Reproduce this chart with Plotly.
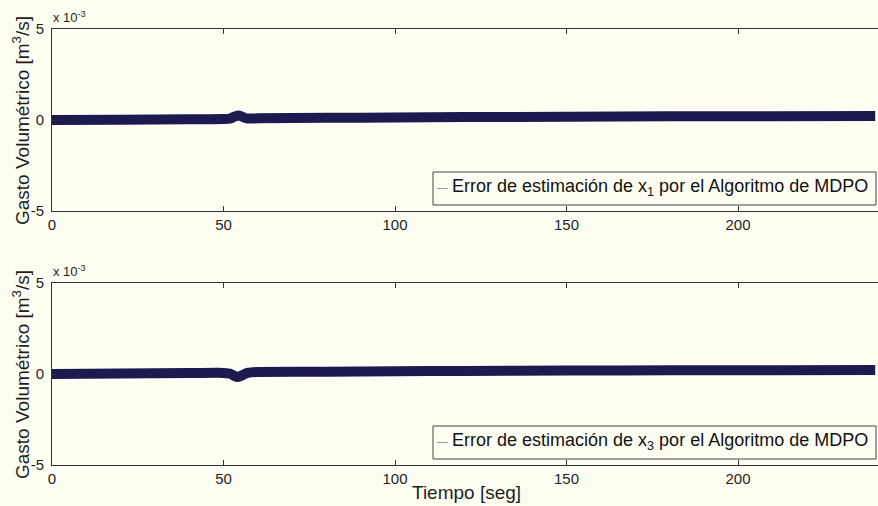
import plotly.graph_objects as go

# Estimation error of the MDPO algorithm, sampled along time [s]
t_x1 = [0, 20, 40, 50, 52, 53, 54, 55, 56, 57, 58, 60, 80, 100, 120, 150, 180, 210, 240]
err_x1 = [0.0, 0.00002, 0.00004, 0.00005, 0.00008, 0.00017, 0.00024, 0.00022, 0.00013, 0.00008, 0.00008,
          0.00009, 0.00012, 0.00014, 0.00016, 0.00018, 0.00020, 0.00021, 0.00022]

t_x3 = [0, 20, 40, 50, 52, 53, 54, 55, 56, 57, 58, 60, 80, 100, 120, 150, 180, 210, 240]
err_x3 = [0.0, 0.00003, 0.00005, 0.00006, 0.00002, -0.00009, -0.00016, -0.00011, -0.00002, 0.00006, 0.00009,
          0.00011, 0.00013, 0.00015, 0.00017, 0.00019, 0.00020, 0.00021, 0.00022]

x_ticks = [0, 50, 100, 150, 200]
y_ticks = [-0.005, 0, 0.005]
y_tick_text = ["-5", "0", "5"]

legend_x1 = "Error de estimación de x<sub>1</sub> por el Algoritmo de MDPO"
legend_x3 = "Error de estimación de x<sub>3</sub> por el Algoritmo de MDPO"
y_title = "Gasto Volumétrico [m<sup>3</sup>/s]"
x_title = "Tiempo [seg]"

W, H = 878, 506
LINE_COLOR = "#1c1a4f"
BG = "#fefef3"
FONT = "Liberation Sans, Arial, sans-serif"

fig = go.Figure()
fig.add_trace(go.Scatter(x=t_x1, y=err_x1, mode="lines", xaxis="x", yaxis="y",
                         line=dict(color=LINE_COLOR, width=10, shape="spline", smoothing=0.6),
                         showlegend=False))
fig.add_trace(go.Scatter(x=t_x3, y=err_x3, mode="lines", xaxis="x2", yaxis="y2",
                         line=dict(color=LINE_COLOR, width=10, shape="spline", smoothing=0.6),
                         showlegend=False))

# plot areas in pixels: (top, bottom)
left = 52
panels = [(29, 211), (283, 465)]


def px_x(p):
    return p / W


def px_y(p):
    return 1 - p / H


xdom = [px_x(left), 1.0]
axis_common = dict(showgrid=False, zeroline=False, showline=True, linecolor="#333333", linewidth=1,
                   ticks="inside", ticklen=5, tickcolor="#333333", automargin=False,
                   tickfont=dict(family=FONT, size=15, color="#1e1e1e"))

fig.update_layout(
    width=W, height=H,
    margin=dict(l=0, r=0, t=0, b=0, autoexpand=False),
    paper_bgcolor=BG, plot_bgcolor=BG,
    font=dict(family=FONT, color="#1e1e1e"),
    xaxis=dict(domain=xdom, range=[0, (W - left) / 3.43], tickvals=x_ticks, mirror="ticks",
               anchor="y", **axis_common),
    yaxis=dict(domain=[px_y(panels[0][1]), px_y(panels[0][0])], range=[-0.005, 0.005],
               tickvals=y_ticks, ticktext=y_tick_text, anchor="x", ticklabelstandoff=4, **axis_common),
    xaxis2=dict(domain=xdom, range=[0, (W - left) / 3.43], tickvals=x_ticks, mirror="ticks",
                anchor="y2", **axis_common),
    yaxis2=dict(domain=[px_y(panels[1][1]), px_y(panels[1][0])], range=[-0.005, 0.005],
                tickvals=y_ticks, ticktext=y_tick_text, anchor="x2", ticklabelstandoff=4, **axis_common),
)

annotations = []
shapes = []
for (top, bottom), label in zip(panels, [legend_x1, legend_x3]):
    # y-axis title
    annotations.append(dict(x=px_x(21), y=px_y((top + bottom) / 2 + 1), xref="paper", yref="paper",
                            xanchor="center", yanchor="middle",
                            text=y_title, textangle=-90, showarrow=False,
                            font=dict(family=FONT, size=19, color="#1e1e1e")))
    # exponent label
    annotations.append(dict(x=px_x(51), y=px_y(top - 12), xref="paper", yref="paper",
                            text="x 10<sup>-3</sup>", showarrow=False, xanchor="left", yanchor="middle",
                            font=dict(family=FONT, size=13, color="#1e1e1e")))
    # legend box
    box_l, box_r = 433, 876
    box_t, box_b = bottom - 39, bottom - 6
    shapes.append(dict(type="rect", xref="paper", yref="paper",
                       x0=px_x(box_l), x1=px_x(box_r), y0=px_y(box_b), y1=px_y(box_t),
                       line=dict(color="#444444", width=1), fillcolor=BG))
    mid = (box_t + box_b) / 2
    shapes.append(dict(type="line", xref="paper", yref="paper",
                       x0=px_x(437), x1=px_x(448), y0=px_y(mid), y1=px_y(mid),
                       line=dict(color="#9a9aa6", width=1)))
    annotations.append(dict(x=px_x(450), y=px_y(mid - 1), xref="paper", yref="paper",
                            text=label, showarrow=False, xanchor="left", yanchor="middle",
                            font=dict(family=FONT, size=18, color="#111111")))

annotations.append(dict(x=px_x(466), y=px_y(492), xref="paper", yref="paper", text=x_title,
                        xanchor="center", yanchor="middle",
                        showarrow=False, font=dict(family=FONT, size=19, color="#1e1e1e")))

fig.update_layout(annotations=annotations, shapes=shapes)
fig.write_html("out.html")
